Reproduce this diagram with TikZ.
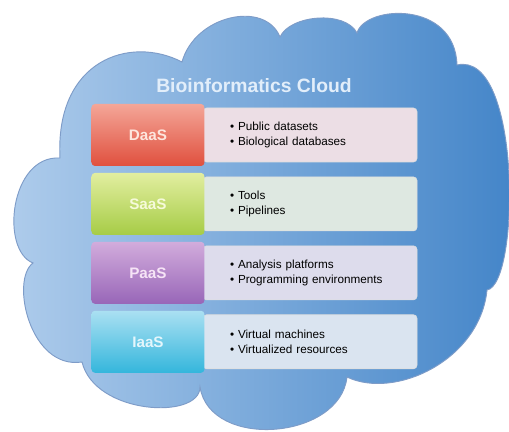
\documentclass[tikz,border=0pt]{standalone}
\usepackage{fontspec}
\setmainfont{Liberation Sans}
\usepackage{tikz}
\usetikzlibrary{positioning}

\definecolor{cloudlight}{RGB}{176,205,236}
\definecolor{clouddark}{RGB}{66,132,200}
\definecolor{cloudline}{RGB}{126,156,200}
\definecolor{titletext}{RGB}{226,238,250}

\begin{document}
\begin{tikzpicture}[x=0.03cm,y=-0.03cm,node distance=0.43cm,
                    layer/.style={rounded corners=3pt,minimum width=3.39cm,
                        minimum height=1.86cm,font=\fontsize{13}{15}\selectfont\bfseries},
                    items/.style={rounded corners=3pt,draw=white!75!gray,line width=0.5pt,
                        minimum height=1.62cm,inner xsep=0.81cm,text width=4.8cm,
                        align=left,font=\fontsize{10}{12.8}\selectfont}]

        \useasboundingbox (0,0) rectangle (509,432);

        % the cloud
        \shadedraw[left color=cloudlight,right color=clouddark,draw=cloudline,line width=0.8pt]
            (60,158) .. controls (55,60) and (130,35) .. (182,62)
                     .. controls (195,15) and (265,0) .. (280,37)
                     .. controls (290,15) and (345,10) .. (357,33)
                     .. controls (365,5) and (455,0) .. (457,65)
                     .. controls (522,50) and (520,285) .. (487,290)
                     .. controls (480,360) and (395,400) .. (347,377)
                     .. controls (340,440) and (210,450) .. (200,387)
                     .. controls (200,420) and (95,415) .. (82,362)
                     .. controls (30,370) and (10,280) .. (33,263)
                     .. controls (0,250) and (10,155) .. (60,158) -- cycle;

        \node[text=titletext,font=\fontsize{16.5}{18}\selectfont\bfseries]
                                 (title) at (254,86)           {Bioinformatics Cloud};

        \node[items,fill={rgb,255:red,236;green,222;blue,229}]
                                 (daasinfo) at (310,135)       {\textbullet\ Public datasets\\\textbullet\ Biological databases};
        \node[items,fill={rgb,255:red,222;green,232;blue,225}]
                                 (saasinfo) [below=of daasinfo] {\textbullet\ Tools\\\textbullet\ Pipelines};
        \node[items,fill={rgb,255:red,221;green,220;blue,236}]
                                 (paasinfo) [below=of saasinfo] {\textbullet\ Analysis platforms\\\textbullet\ Programming environments};
        \node[items,fill={rgb,255:red,218;green,228;blue,240}]
                                 (iaasinfo) [below=of paasinfo] {\textbullet\ Virtual machines\\\textbullet\ Virtualized resources};

        \node[layer,top color={rgb,255:red,244;green,166;blue,152},bottom color={rgb,255:red,224;green,80;blue,62},
              text={rgb,255:red,253;green,230;blue,222}]
                                 (daas) [left=-0.06cm of daasinfo] {DaaS};
        \node[layer,top color={rgb,255:red,226;green,238;blue,160},bottom color={rgb,255:red,166;green,204;blue,70},
              text={rgb,255:red,246;green,250;blue,218}]
                                 (saas) [left=-0.06cm of saasinfo] {SaaS};
        \node[layer,top color={rgb,255:red,210;green,172;blue,220},bottom color={rgb,255:red,152;green,102;blue,184},
              text={rgb,255:red,246;green,228;blue,246}]
                                 (paas) [left=-0.06cm of paasinfo] {PaaS};
        \node[layer,top color={rgb,255:red,170;green,224;blue,242},bottom color={rgb,255:red,52;green,182;blue,220},
              text={rgb,255:red,228;green,246;blue,252}]
                                 (iaas) [left=-0.06cm of iaasinfo] {IaaS};

\end{tikzpicture}
\end{document}
